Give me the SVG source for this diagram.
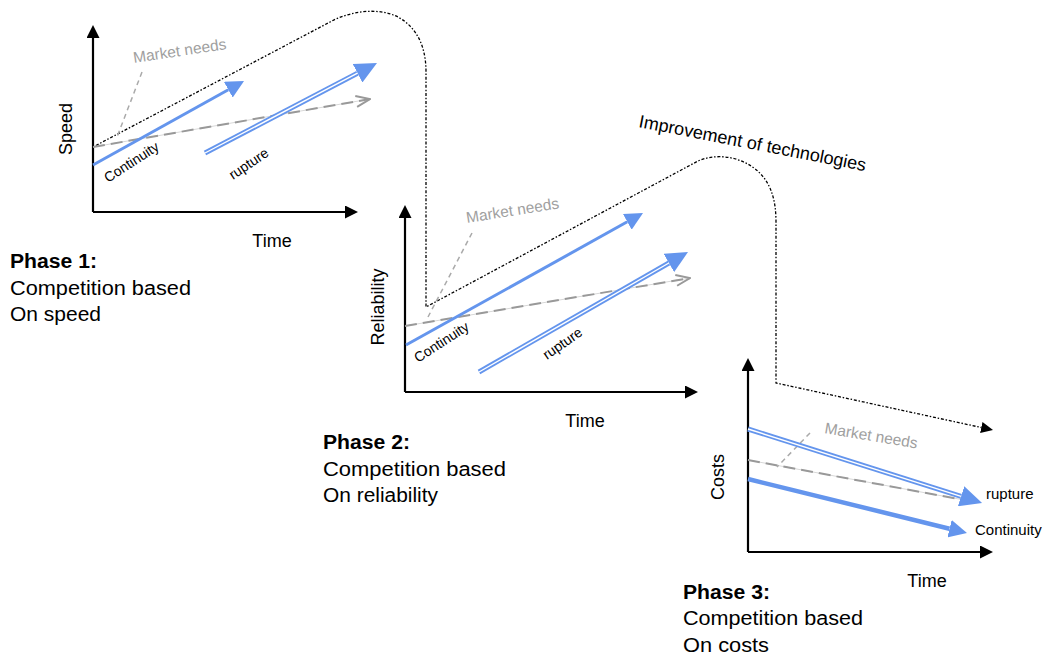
<svg xmlns="http://www.w3.org/2000/svg" width="1048" height="658" viewBox="0 0 1048 658">
<style>
text{font-family:"Liberation Sans",Arial,sans-serif;fill:#000}
.ax{stroke:#000;stroke-width:2.2;fill:none}
.axl{font-size:18px}
.blue{stroke:#6495ED;stroke-width:3;fill:none}
.dbl{stroke:#6495ED;stroke-width:5;fill:none}
.gap{stroke:#fff;stroke-width:1.4;fill:none}
.mkt{stroke:#999;stroke-width:2;stroke-dasharray:12 6;fill:none}
.mktb{stroke:#d8d8d8;stroke-width:1;fill:none}
.lead{stroke:#aaa;stroke-width:1.5;stroke-dasharray:5 4;fill:none}
.mn{font-size:15.5px;fill:#a0a0a0}
.lab{font-size:14px}
.lab3{font-size:15px}
.tech{stroke:#000;stroke-width:1.3;stroke-dasharray:1.5 1.8 3 1.8;fill:none}
.ph{font-size:20px}
.phb{font-size:20px;font-weight:bold}
</style>
<defs>
<marker id="axA" markerUnits="userSpaceOnUse" viewBox="0 0 13 13" refX="0" refY="6.5" markerWidth="13" markerHeight="13" orient="auto"><path d="M0,0 L13,6.5 L0,13 Z" fill="#000"/></marker>
<marker id="bA" markerUnits="userSpaceOnUse" viewBox="0 0 18 18" refX="0" refY="9" markerWidth="18" markerHeight="18" orient="auto"><path d="M0,0 L18,9 L0,18 Z" fill="#6495ED"/></marker>
<marker id="bAL" markerUnits="userSpaceOnUse" viewBox="0 0 22 21" refX="0" refY="10.5" markerWidth="22" markerHeight="21" orient="auto"><path d="M0,0 L22,10.5 L0,21 Z" fill="#6495ED"/></marker>
<marker id="gA" markerUnits="userSpaceOnUse" viewBox="0 0 16 13" refX="15" refY="6.5" markerWidth="16" markerHeight="13" orient="auto"><path d="M1,1 L15,6.5 L1,12" fill="none" stroke="#999" stroke-width="2"/></marker>
<marker id="tA" markerUnits="userSpaceOnUse" viewBox="0 0 12 11" refX="0" refY="5.5" markerWidth="12" markerHeight="11" orient="auto"><path d="M0,0 L12,5.5 L0,11 Z" fill="#000"/></marker>
</defs>

<g id="connectors">
<path id="tech-curve" class="tech" d="M93,147 L330,22 C350,11 378,7 398,17 C416,27 426,45 426,72 L426,307 L698,161 C714,154 736,155 754,168 C770,180 776,198 776,222 L776,383 L981.3,427.5" marker-end="url(#tA)"/>
</g>
<text transform="translate(638,127) rotate(11)" font-size="18">Improvement of  technologies</text>

<g id="chart1">
<path class="ax" d="M93,212 L93,38" marker-end="url(#axA)"/>
<path class="ax" d="M93,212 L345,212" marker-end="url(#axA)"/>
<text class="axl" transform="translate(72,129) rotate(-90)" text-anchor="middle">Speed</text>
<text class="axl" x="272" y="247" text-anchor="middle">Time</text>
<line class="mktb" x1="93" y1="147" x2="370" y2="99"/>
<line class="mkt" x1="93" y1="147" x2="370" y2="99" marker-end="url(#gA)"/>
<line class="lead" x1="142" y1="72" x2="117" y2="137"/>
<line class="blue" x1="93" y1="165" x2="228.3" y2="89.7" marker-end="url(#bA)"/>
<line class="dbl" x1="205" y1="153" x2="357.5" y2="73.2" marker-end="url(#bAL)"/>
<line class="gap" x1="205" y1="153" x2="357.5" y2="73.2"/>
<text class="mn" transform="translate(134,63) rotate(-8.5)">Market needs</text>
<text class="lab" transform="translate(108,183) rotate(-33)">Continuity</text>
<text class="lab" transform="translate(233,180) rotate(-34)">rupture</text>
</g>

<g id="chart2">
<path class="ax" d="M405,392 L405,218" marker-end="url(#axA)"/>
<path class="ax" d="M405,392 L685,392" marker-end="url(#axA)"/>
<text class="axl" transform="translate(384,307) rotate(-90)" text-anchor="middle">Reliability</text>
<text class="axl" x="585" y="427" text-anchor="middle">Time</text>
<line class="mktb" x1="405" y1="326" x2="690" y2="278"/>
<line class="mkt" x1="405" y1="326" x2="690" y2="278" marker-end="url(#gA)"/>
<line class="lead" x1="472" y1="233" x2="428" y2="317"/>
<line class="blue" x1="406" y1="345" x2="627.3" y2="221.8" marker-end="url(#bA)"/>
<line class="dbl" x1="479" y1="372" x2="668.9" y2="263" marker-end="url(#bAL)"/>
<line class="gap" x1="479" y1="372" x2="668.9" y2="263"/>
<text class="mn" transform="translate(467,223) rotate(-9)">Market needs</text>
<text class="lab" transform="translate(418,363) rotate(-33)">Continuity</text>
<text class="lab" transform="translate(547,360) rotate(-35)">rupture</text>
</g>

<g id="chart3">
<path class="ax" d="M748,552 L748,371" marker-end="url(#axA)"/>
<path class="ax" d="M748,552 L980,552" marker-end="url(#axA)"/>
<text class="axl" transform="translate(724,477) rotate(-90)" text-anchor="middle">Costs</text>
<text class="axl" x="927" y="587" text-anchor="middle">Time</text>
<line class="mktb" x1="748" y1="460" x2="975" y2="502"/>
<line class="mkt" x1="748" y1="460" x2="975" y2="502"/>
<line class="lead" x1="810" y1="433" x2="777" y2="467"/>
<line class="dbl" x1="748" y1="429" x2="961.1" y2="496.3" marker-end="url(#bAL)"/>
<line class="gap" x1="748" y1="429" x2="961.1" y2="496.3"/>
<line class="blue" style="stroke-width:4.5" x1="748" y1="479" x2="949.5" y2="528.7" marker-end="url(#bA)"/>
<text class="mn" transform="translate(824,433) rotate(9.5)">Market needs</text>
<text class="lab3" x="986" y="499">rupture</text>
<text class="lab3" x="975" y="535">Continuity</text>
</g>

<g id="phase1">
<text class="phb" x="10" y="268" textLength="87" lengthAdjust="spacingAndGlyphs">Phase 1:</text>
<text class="ph" x="10" y="295" textLength="181" lengthAdjust="spacingAndGlyphs">Competition based</text>
<text class="ph" x="10" y="321" textLength="91" lengthAdjust="spacingAndGlyphs">On speed</text>
</g>
<g id="phase2">
<text class="phb" x="323" y="449" textLength="87" lengthAdjust="spacingAndGlyphs">Phase 2:</text>
<text class="ph" x="323" y="476" textLength="183" lengthAdjust="spacingAndGlyphs">Competition based</text>
<text class="ph" x="323" y="502" textLength="115" lengthAdjust="spacingAndGlyphs">On reliability</text>
</g>
<g id="phase3">
<text class="phb" x="683" y="599" textLength="87" lengthAdjust="spacingAndGlyphs">Phase 3:</text>
<text class="ph" x="683" y="625" textLength="180" lengthAdjust="spacingAndGlyphs">Competition based</text>
<text class="ph" x="683" y="652" textLength="86" lengthAdjust="spacingAndGlyphs">On costs</text>
</g>
</svg>
